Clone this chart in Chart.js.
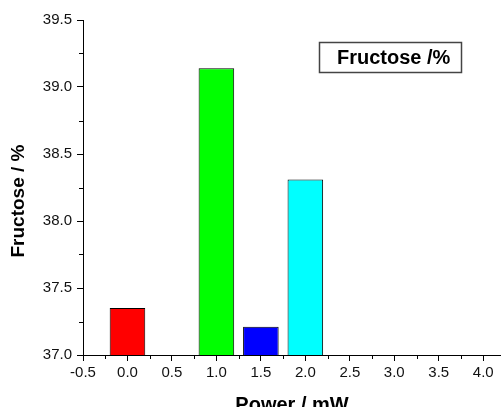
<!DOCTYPE html>
<html>
<head>
<meta charset="utf-8">
<script src="https://cdn.jsdelivr.net/npm/chart.js@4.4.1/dist/chart.umd.min.js"></script>
<style>
  html, body { margin: 0; padding: 0; background: #fff; }
  #wrap { width: 501px; height: 407px; }
</style>
</head>
<body>
<div id="wrap"><canvas id="fructoseChart" width="501" height="407"></canvas></div>
<script>
// data
const powers = [0, 1, 1.5, 2];
const fructose = [37.35, 39.14, 37.21, 38.31];
const barColors = ["#ff0000", "#00ff00", "#0000ff", "#00ffff"];

// axis ticks
const xTicks = [-0.5, 0, 0.5, 1, 1.5, 2, 2.5, 3, 3.5, 4];
const xMinorTicks = [-0.25, 0.25, 0.75, 1.25, 1.75, 2.25, 2.75, 3.25, 3.75];
const yTicks = [37.0, 37.5, 38.0, 38.5, 39.0, 39.5];
const yMinorTicks = [37.25, 37.75, 38.25, 38.75, 39.25];

const xTitle = "Power / mW";
const yTitle = "Fructose / %";
const legendLabel = "Fructose /%";

const FONT = "'Liberation Sans', Arial, sans-serif";

// minor ticks, axis title on y and the framed label
const extras = {
    id: "extras",
    afterDraw(chart) {
        const ctx = chart.ctx;
        const xs = chart.scales.x, ys = chart.scales.y;
        const area = chart.chartArea;
        ctx.save();
        ctx.strokeStyle = "#000";
        ctx.lineWidth = 1;
        ctx.beginPath();
        xMinorTicks.forEach(v => {
            const px = Math.round(xs.getPixelForValue(v)) + 0.5;
            ctx.moveTo(px, area.bottom);
            ctx.lineTo(px, area.bottom + 4);
        });
        yMinorTicks.forEach(v => {
            const py = Math.round(ys.getPixelForValue(v)) + 0.5;
            ctx.moveTo(area.left, py);
            ctx.lineTo(area.left - 4, py);
        });
        ctx.stroke();

        // y title
        ctx.fillStyle = "#000";
        ctx.font = "bold 19px " + FONT;
        ctx.textAlign = "center";
        ctx.textBaseline = "middle";
        ctx.translate(19, 201);
        ctx.rotate(-Math.PI / 2);
        ctx.fillText(yTitle, 0, 0);
        ctx.setTransform(1, 0, 0, 1, 0, 0);

        // framed label
        ctx.strokeStyle = "#444";
        ctx.lineWidth = 1.5;
        ctx.strokeRect(319.5, 42.5, 142, 30);
        ctx.font = "bold 20px " + FONT;
        ctx.textAlign = "left";
        ctx.textBaseline = "middle";
        ctx.fillText(legendLabel, 337, 58);
        ctx.restore();
    }
};

new Chart(document.getElementById("fructoseChart"), {
    type: "bar",
    data: {
        datasets: [{
            label: legendLabel,
            data: powers.map((p, i) => ({ x: p, y: fructose[i] })),
            backgroundColor: barColors,
            borderColor: "#000",
            borderWidth: 1,
            borderSkipped: "start",
            categoryPercentage: 1.0,
            barPercentage: 0.8
        }]
    },
    options: {
        responsive: false,
        animation: false,
        layout: { padding: { top: 20, left: 0, right: 0, bottom: 0 } },
        plugins: {
            legend: { display: false },
            tooltip: { enabled: false }
        },
        scales: {
            x: {
                type: "linear",
                min: -0.5,
                max: 4.2,
                offset: false,
                afterBuildTicks: scale => { scale.ticks = xTicks.map(v => ({ value: v })); },
                afterFit: scale => { scale.height = 52; },
                grid: { display: true, drawOnChartArea: false, offset: false, tickLength: 6, tickColor: "#000" },
                border: { display: true, color: "#000", width: 1 },
                ticks: {
                    color: "#111",
                    font: { family: FONT, size: 15 },
                    padding: 3,
                    maxRotation: 0,
                    autoSkip: false,
                    callback: v => v.toFixed(1)
                },
                title: {
                    display: true,
                    text: xTitle,
                    color: "#000",
                    font: { family: FONT, size: 20, weight: "bold", lineHeight: 1 },
                    padding: { top: 0, bottom: -8 }
                }
            },
            y: {
                min: 37,
                max: 39.5,
                afterBuildTicks: scale => { scale.ticks = yTicks.map(v => ({ value: v })); },
                afterFit: scale => { scale.width = 83; },
                grid: { display: true, drawOnChartArea: false, tickLength: 6, tickColor: "#000" },
                border: { display: true, color: "#000", width: 1 },
                ticks: {
                    color: "#111",
                    font: { family: FONT, size: 15 },
                    padding: 5,
                    autoSkip: false,
                    callback: v => v.toFixed(1)
                }
            }
        }
    },
    plugins: [extras]
});
</script>
</body>
</html>
